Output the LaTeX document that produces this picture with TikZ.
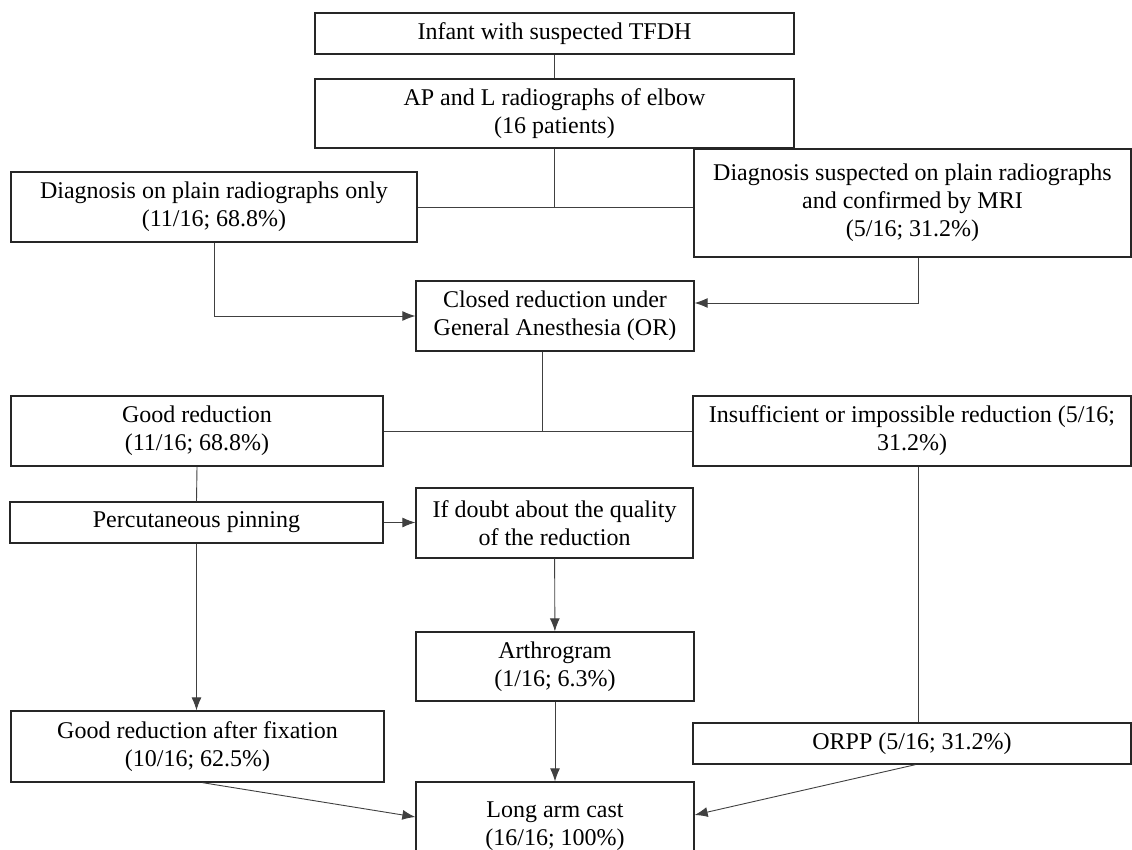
\documentclass[tikz,border=0pt]{standalone}
\usepackage{fontspec}
\setmainfont{Liberation Serif}
\usepackage{tikz}
\usetikzlibrary{arrows.meta}
\tikzset{
  Kasten/.style={draw=black!85, line width=1.3pt, rectangle, align=center,
    inner sep=0pt, minimum width=#1}, % für Kästen
  Linie/.style={draw=black!75, line width=0.9pt}, % für Verbindungen
  Pfeil/.style={Linie, -{Latex[length=13pt,width=10pt]}} % für Pfeile
}

\begin{document}
\begin{tikzpicture}[x=1pt, y=-1pt,
font=\fontsize{24}{28}\selectfont
]
\useasboundingbox (0,0) rectangle (1132,850);

%Kästen
\node[Kasten=479, minimum height=41] (inf) at (554.5,33.5) {Infant with suspected TFDH};
\node[Kasten=479, minimum height=69] (ap) at (554.5,113.5) {AP and L radiographs of elbow\\(16 patients)};

\node[Kasten=406, minimum height=70] (plain) at (214,207) {Diagnosis on plain radiographs only\\(11/16; 68.8\%)};
\node[Kasten=437, minimum height=108] (mri) at (912.5,203) {Diagnosis suspected on plain radiographs\\and confirmed by MRI\\(5/16; 31.2\%)};

\node[Kasten=278, minimum height=70] (closed) at (555,316) {Closed reduction under\\General Anesthesia (OR)};

\node[Kasten=372, minimum height=70] (good) at (197,431) {Good reduction\\(11/16; 68.8\%)};
\node[Kasten=438, minimum height=70] (insuf) at (912,431) {Insufficient or impossible reduction (5/16;\\31.2\%)};

\node[Kasten=373, minimum height=41] (perc) at (196.5,522.5) {Percutaneous pinning};
\node[Kasten=277, minimum height=70] (doubt) at (554.5,523) {If doubt about the quality\\of the reduction};

\node[Kasten=278, minimum height=69] (arth) at (555,666.5) {Arthrogram\\(1/16; 6.3\%)};

\node[Kasten=373, minimum height=71] (fix) at (197.5,746.5) {Good reduction after fixation\\(10/16; 62.5\%)};
\node[Kasten=438, minimum height=41] (orpp) at (912,743.5) {ORPP (5/16; 31.2\%)};

\node[Kasten=278, minimum height=88] (cast) at (555,826) {Long arm cast\\(16/16; 100\%)};

%Verbindungen
\draw[Linie] (inf) -- (ap);
\draw[Linie] (ap.south) -- (ap.south |- plain.east);
\draw[Linie] (plain.east) -- (plain.east -| mri.west);

\draw[Pfeil] (plain.south) |- (closed.west);
\draw[Pfeil] ([xshift=5.5pt]mri.south) |- ([yshift=13pt]closed.east);

\draw[Linie] ([xshift=-13pt]closed.south) -- ([xshift=-13pt]closed.south |- good.east);
\draw[Linie] (good.east) -- (good.east -| insuf.west);

\draw[Linie] (good.south) -- (perc.north);
\draw[Pfeil] (perc.east) -- (perc.east -| doubt.west);
\draw[Pfeil] (perc.south) -- (perc.south |- fix.north);

\draw[Pfeil] (doubt) -- (arth);
\draw[Pfeil] (arth) -- (cast);

\draw[Linie] ([xshift=6pt]insuf.south) -- ([xshift=6pt]insuf.south |- orpp.north);

%Pfeile zum Gips
\draw[Pfeil] ([xshift=5pt]fix.south) -- ([yshift=9pt]cast.west);
\draw[Pfeil] ([xshift=3.5pt]orpp.south) -- ([yshift=11pt]cast.east);

\end{tikzpicture}
\end{document}
